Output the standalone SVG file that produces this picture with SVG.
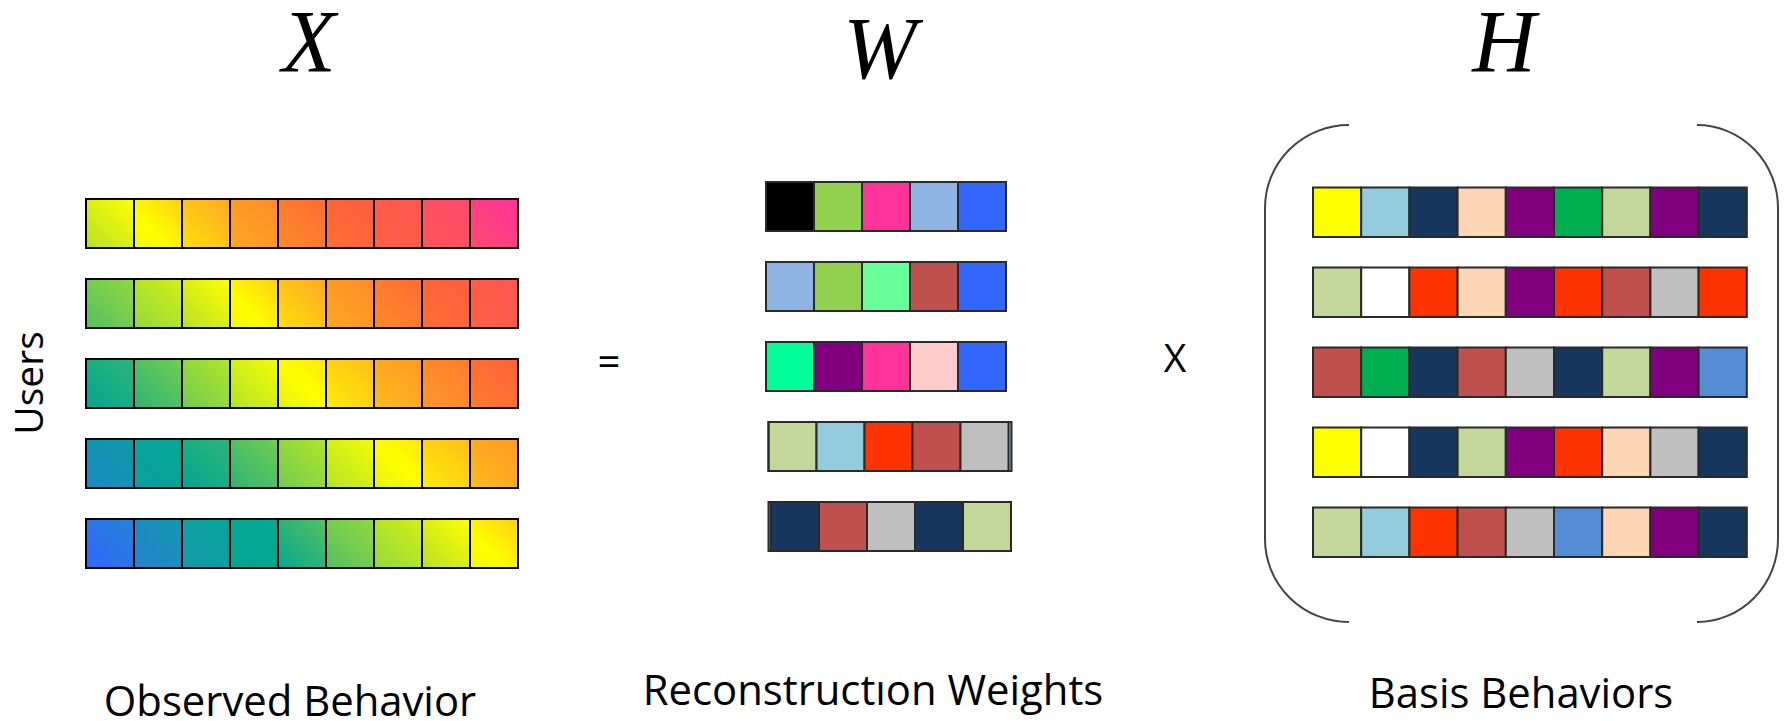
<svg xmlns="http://www.w3.org/2000/svg" width="1785" height="721" viewBox="0 0 1785 721">
<style>
.xc{stroke:#000;stroke-width:2}
.wc{stroke:#2a2a2a;stroke-width:2}
.frame{fill:none;stroke:#2a2a2a;stroke-width:2}
.br{fill:none;stroke:#444;stroke-width:2}
.mat{font-family:"Liberation Serif","Times New Roman",serif;font-style:italic;font-size:88px;fill:#000;text-anchor:middle}
.lbl{font-family:"Open Sans","Liberation Sans",sans-serif;fill:#000;text-anchor:middle}
</style>
<defs>
<linearGradient id="g0" x1="0" y1="1" x2="1" y2="0"><stop offset="0" stop-color="#3366FF"/><stop offset="1" stop-color="#2482D2"/></linearGradient>
<linearGradient id="g1" x1="0" y1="1" x2="1" y2="0"><stop offset="0" stop-color="#2482D2"/><stop offset="1" stop-color="#1598AE"/></linearGradient>
<linearGradient id="g2" x1="0" y1="1" x2="1" y2="0"><stop offset="0" stop-color="#1598AE"/><stop offset="1" stop-color="#03A594"/></linearGradient>
<linearGradient id="g3" x1="0" y1="1" x2="1" y2="0"><stop offset="0" stop-color="#03A594"/><stop offset="1" stop-color="#05A890"/></linearGradient>
<linearGradient id="g4" x1="0" y1="1" x2="1" y2="0"><stop offset="0" stop-color="#05A890"/><stop offset="1" stop-color="#55C060"/></linearGradient>
<linearGradient id="g5" x1="0" y1="1" x2="1" y2="0"><stop offset="0" stop-color="#55C060"/><stop offset="1" stop-color="#92D840"/></linearGradient>
<linearGradient id="g6" x1="0" y1="1" x2="1" y2="0"><stop offset="0" stop-color="#92D840"/><stop offset="1" stop-color="#D4F014"/></linearGradient>
<linearGradient id="g7" x1="0" y1="1" x2="1" y2="0"><stop offset="0" stop-color="#B8E028"/><stop offset="1" stop-color="#FFFF00"/></linearGradient>
<linearGradient id="g8" x1="0" y1="1" x2="1" y2="0"><stop offset="0" stop-color="#F0F808"/><stop offset="0.35" stop-color="#FFFF00"/><stop offset="1" stop-color="#FFD012"/></linearGradient>
<linearGradient id="g9" x1="0" y1="1" x2="1" y2="0"><stop offset="0" stop-color="#FFE00C"/><stop offset="1" stop-color="#FFA822"/></linearGradient>
<linearGradient id="g10" x1="0" y1="1" x2="1" y2="0"><stop offset="0" stop-color="#FFA822"/><stop offset="1" stop-color="#FF8A2A"/></linearGradient>
<linearGradient id="g11" x1="0" y1="1" x2="1" y2="0"><stop offset="0" stop-color="#FF8A2A"/><stop offset="1" stop-color="#FF6C33"/></linearGradient>
<linearGradient id="g12" x1="0" y1="1" x2="1" y2="0"><stop offset="0" stop-color="#FF6E32"/><stop offset="1" stop-color="#FF5E42"/></linearGradient>
<linearGradient id="g13" x1="0" y1="1" x2="1" y2="0"><stop offset="0" stop-color="#FF6040"/><stop offset="1" stop-color="#FF5555"/></linearGradient>
<linearGradient id="g14" x1="0" y1="1" x2="1" y2="0"><stop offset="0" stop-color="#FF5555"/><stop offset="1" stop-color="#FF4A70"/></linearGradient>
<linearGradient id="g15" x1="0" y1="1" x2="1" y2="0"><stop offset="0" stop-color="#FF4A70"/><stop offset="1" stop-color="#FF3399"/></linearGradient>
<linearGradient id="h1" x1="0" y1="1" x2="1" y2="0"><stop offset="0" stop-color="#1E88C8"/><stop offset="1" stop-color="#0C9EA1"/></linearGradient>
<linearGradient id="h2" x1="0" y1="1" x2="1" y2="0"><stop offset="0" stop-color="#0C9EA1"/><stop offset="1" stop-color="#04A692"/></linearGradient>
<linearGradient id="h3" x1="0" y1="1" x2="1" y2="0"><stop offset="0" stop-color="#04A692"/><stop offset="1" stop-color="#2DB478"/></linearGradient>
<linearGradient id="h4" x1="0" y1="1" x2="1" y2="0"><stop offset="0" stop-color="#2DB478"/><stop offset="1" stop-color="#73CC50"/></linearGradient>
<linearGradient id="h5" x1="0" y1="1" x2="1" y2="0"><stop offset="0" stop-color="#73CC50"/><stop offset="1" stop-color="#B3E42A"/></linearGradient>
<linearGradient id="h6" x1="0" y1="1" x2="1" y2="0"><stop offset="0" stop-color="#B3E42A"/><stop offset="1" stop-color="#F4FB05"/></linearGradient>
<linearGradient id="h7" x1="0" y1="1" x2="1" y2="0"><stop offset="0" stop-color="#E0F210"/><stop offset="0.5" stop-color="#FFFF00"/><stop offset="1" stop-color="#FFE709"/></linearGradient>
<linearGradient id="h8" x1="0" y1="1" x2="1" y2="0"><stop offset="0" stop-color="#FFEE06"/><stop offset="1" stop-color="#FFBC1A"/></linearGradient>
<linearGradient id="h9" x1="0" y1="1" x2="1" y2="0"><stop offset="0" stop-color="#FFBC1A"/><stop offset="1" stop-color="#FF9926"/></linearGradient>
<linearGradient id="h10" x1="0" y1="1" x2="1" y2="0"><stop offset="0" stop-color="#FF9926"/><stop offset="1" stop-color="#FF7C2E"/></linearGradient>
<linearGradient id="h11" x1="0" y1="1" x2="1" y2="0"><stop offset="0" stop-color="#FF7C2E"/><stop offset="1" stop-color="#FF6239"/></linearGradient>
</defs>
<rect width="1785" height="721" fill="#fff"/>

<g id="title-X"><text class="mat" x="309" y="71">X</text></g>
<g id="title-W"><text class="mat" x="880" y="78">W</text></g>
<g id="title-H"><text class="mat" x="1504" y="71">H</text></g>

<g id="matrix-X">
<g id="x-row1">
<rect class="xc" x="86" y="199" width="48" height="49" fill="url(#g7)"/>
<rect class="xc" x="134" y="199" width="48" height="49" fill="url(#g8)"/>
<rect class="xc" x="182" y="199" width="48" height="49" fill="url(#g9)"/>
<rect class="xc" x="230" y="199" width="48" height="49" fill="url(#g10)"/>
<rect class="xc" x="278" y="199" width="48" height="49" fill="url(#g11)"/>
<rect class="xc" x="326" y="199" width="48" height="49" fill="url(#g12)"/>
<rect class="xc" x="374" y="199" width="48" height="49" fill="url(#g13)"/>
<rect class="xc" x="422" y="199" width="48" height="49" fill="url(#g14)"/>
<rect class="xc" x="470" y="199" width="48" height="49" fill="url(#g15)"/>
</g>
<g id="x-row2">
<rect class="xc" x="86" y="279" width="48" height="49" fill="url(#g5)"/>
<rect class="xc" x="134" y="279" width="48" height="49" fill="url(#g6)"/>
<rect class="xc" x="182" y="279" width="48" height="49" fill="url(#g7)"/>
<rect class="xc" x="230" y="279" width="48" height="49" fill="url(#g8)"/>
<rect class="xc" x="278" y="279" width="48" height="49" fill="url(#g9)"/>
<rect class="xc" x="326" y="279" width="48" height="49" fill="url(#g10)"/>
<rect class="xc" x="374" y="279" width="48" height="49" fill="url(#g11)"/>
<rect class="xc" x="422" y="279" width="48" height="49" fill="url(#g12)"/>
<rect class="xc" x="470" y="279" width="48" height="49" fill="url(#g13)"/>
</g>
<g id="x-row3">
<rect class="xc" x="86" y="359" width="48" height="49" fill="url(#h3)"/>
<rect class="xc" x="134" y="359" width="48" height="49" fill="url(#h4)"/>
<rect class="xc" x="182" y="359" width="48" height="49" fill="url(#h5)"/>
<rect class="xc" x="230" y="359" width="48" height="49" fill="url(#h6)"/>
<rect class="xc" x="278" y="359" width="48" height="49" fill="url(#h7)"/>
<rect class="xc" x="326" y="359" width="48" height="49" fill="url(#h8)"/>
<rect class="xc" x="374" y="359" width="48" height="49" fill="url(#h9)"/>
<rect class="xc" x="422" y="359" width="48" height="49" fill="url(#h10)"/>
<rect class="xc" x="470" y="359" width="48" height="49" fill="url(#h11)"/>
</g>
<g id="x-row4">
<rect class="xc" x="86" y="439" width="48" height="49" fill="url(#h1)"/>
<rect class="xc" x="134" y="439" width="48" height="49" fill="url(#h2)"/>
<rect class="xc" x="182" y="439" width="48" height="49" fill="url(#h3)"/>
<rect class="xc" x="230" y="439" width="48" height="49" fill="url(#h4)"/>
<rect class="xc" x="278" y="439" width="48" height="49" fill="url(#h5)"/>
<rect class="xc" x="326" y="439" width="48" height="49" fill="url(#h6)"/>
<rect class="xc" x="374" y="439" width="48" height="49" fill="url(#h7)"/>
<rect class="xc" x="422" y="439" width="48" height="49" fill="url(#h8)"/>
<rect class="xc" x="470" y="439" width="48" height="49" fill="url(#h9)"/>
</g>
<g id="x-row5">
<rect class="xc" x="86" y="519" width="48" height="49" fill="url(#g0)"/>
<rect class="xc" x="134" y="519" width="48" height="49" fill="url(#g1)"/>
<rect class="xc" x="182" y="519" width="48" height="49" fill="url(#g2)"/>
<rect class="xc" x="230" y="519" width="48" height="49" fill="url(#g3)"/>
<rect class="xc" x="278" y="519" width="48" height="49" fill="url(#g4)"/>
<rect class="xc" x="326" y="519" width="48" height="49" fill="url(#g5)"/>
<rect class="xc" x="374" y="519" width="48" height="49" fill="url(#g6)"/>
<rect class="xc" x="422" y="519" width="48" height="49" fill="url(#g7)"/>
<rect class="xc" x="470" y="519" width="48" height="49" fill="url(#g8)"/>
</g>
</g>

<g id="label-users"><text class="lbl" x="43" y="383" font-size="39" transform="rotate(-90 43 383)">Users</text></g>

<g id="op-equals"><text class="lbl" x="609" y="376" font-size="40">=</text></g>

<g id="matrix-W">
<g id="w-row1">
<rect class="wc" x="766" y="182" width="48" height="49" fill="#000000"/>
<rect class="wc" x="814" y="182" width="48" height="49" fill="#92D050"/>
<rect class="wc" x="862" y="182" width="48" height="49" fill="#FF3399"/>
<rect class="wc" x="910" y="182" width="48" height="49" fill="#8EB4E3"/>
<rect class="wc" x="958" y="182" width="48" height="49" fill="#3366FF"/>
</g>
<g id="w-row2">
<rect class="wc" x="766" y="262" width="48" height="49" fill="#8EB4E3"/>
<rect class="wc" x="814" y="262" width="48" height="49" fill="#92D050"/>
<rect class="wc" x="862" y="262" width="48" height="49" fill="#66FF99"/>
<rect class="wc" x="910" y="262" width="48" height="49" fill="#C0504D"/>
<rect class="wc" x="958" y="262" width="48" height="49" fill="#3366FF"/>
</g>
<g id="w-row3">
<rect class="wc" x="766" y="342" width="48" height="49" fill="#00FF99"/>
<rect class="wc" x="814" y="342" width="48" height="49" fill="#800080"/>
<rect class="wc" x="862" y="342" width="48" height="49" fill="#FF3399"/>
<rect class="wc" x="910" y="342" width="48" height="49" fill="#FFCCCC"/>
<rect class="wc" x="958" y="342" width="48" height="49" fill="#3366FF"/>
</g>
<g id="w-row4">
<rect x="1008.5" y="422" width="3" height="49" fill="#8EB4E3"/>
<rect class="wc" x="768.5" y="422" width="48" height="49" fill="#C4D79B"/>
<rect class="wc" x="816.5" y="422" width="48" height="49" fill="#93CDDD"/>
<rect class="wc" x="864.5" y="422" width="48" height="49" fill="#FF3300"/>
<rect class="wc" x="912.5" y="422" width="48" height="49" fill="#C0504D"/>
<rect class="wc" x="960.5" y="422" width="48" height="49" fill="#BFBFBF"/>
<rect class="frame" x="768.5" y="422" width="243" height="49"/>
</g>
<g id="w-row5">
<rect x="768.5" y="502" width="3" height="49" fill="#00CC66"/>
<rect class="wc" x="771" y="502" width="48" height="49" fill="#17375E"/>
<rect class="wc" x="819" y="502" width="48" height="49" fill="#C0504D"/>
<rect class="wc" x="867" y="502" width="48" height="49" fill="#BFBFBF"/>
<rect class="wc" x="915" y="502" width="48" height="49" fill="#17375E"/>
<rect class="wc" x="963" y="502" width="48" height="49" fill="#C4D79B"/>
<rect class="frame" x="768.5" y="502" width="242.5" height="49"/>
</g>
</g>

<g id="op-times"><text class="lbl" x="1175" y="372" font-size="39">X</text></g>

<g id="matrix-H">
<path class="br" d="M1349,125 A84,83 0 0 0 1265,208 L1265,539 A84,83 0 0 0 1349,622"/>
<path class="br" d="M1697,125 A81,83 0 0 1 1778,208 L1778,539 A81,83 0 0 1 1697,622"/>
<g id="h-row1">
<rect class="wc" x="1313" y="187.5" width="48.2" height="49.5" fill="#FFFF00"/>
<rect class="wc" x="1361.2" y="187.5" width="48.2" height="49.5" fill="#93CDDD"/>
<rect class="wc" x="1409.4" y="187.5" width="48.2" height="49.5" fill="#17375E"/>
<rect class="wc" x="1457.6" y="187.5" width="48.2" height="49.5" fill="#FCD5B5"/>
<rect class="wc" x="1505.8" y="187.5" width="48.2" height="49.5" fill="#800080"/>
<rect class="wc" x="1554" y="187.5" width="48.2" height="49.5" fill="#00B050"/>
<rect class="wc" x="1602.2" y="187.5" width="48.2" height="49.5" fill="#C4D79B"/>
<rect class="wc" x="1650.4" y="187.5" width="48.2" height="49.5" fill="#800080"/>
<rect class="wc" x="1698.6" y="187.5" width="48.2" height="49.5" fill="#17375E"/>
</g>
<g id="h-row2">
<rect class="wc" x="1313" y="267.5" width="48.2" height="49.5" fill="#C4D79B"/>
<rect class="wc" x="1361.2" y="267.5" width="48.2" height="49.5" fill="#FFFFFF"/>
<rect class="wc" x="1409.4" y="267.5" width="48.2" height="49.5" fill="#FF3300"/>
<rect class="wc" x="1457.6" y="267.5" width="48.2" height="49.5" fill="#FCD5B5"/>
<rect class="wc" x="1505.8" y="267.5" width="48.2" height="49.5" fill="#800080"/>
<rect class="wc" x="1554" y="267.5" width="48.2" height="49.5" fill="#FF3300"/>
<rect class="wc" x="1602.2" y="267.5" width="48.2" height="49.5" fill="#C0504D"/>
<rect class="wc" x="1650.4" y="267.5" width="48.2" height="49.5" fill="#BFBFBF"/>
<rect class="wc" x="1698.6" y="267.5" width="48.2" height="49.5" fill="#FF3300"/>
</g>
<g id="h-row3">
<rect class="wc" x="1313" y="347.5" width="48.2" height="49.5" fill="#C0504D"/>
<rect class="wc" x="1361.2" y="347.5" width="48.2" height="49.5" fill="#00B050"/>
<rect class="wc" x="1409.4" y="347.5" width="48.2" height="49.5" fill="#17375E"/>
<rect class="wc" x="1457.6" y="347.5" width="48.2" height="49.5" fill="#C0504D"/>
<rect class="wc" x="1505.8" y="347.5" width="48.2" height="49.5" fill="#BFBFBF"/>
<rect class="wc" x="1554" y="347.5" width="48.2" height="49.5" fill="#17375E"/>
<rect class="wc" x="1602.2" y="347.5" width="48.2" height="49.5" fill="#C4D79B"/>
<rect class="wc" x="1650.4" y="347.5" width="48.2" height="49.5" fill="#800080"/>
<rect class="wc" x="1698.6" y="347.5" width="48.2" height="49.5" fill="#558ED5"/>
</g>
<g id="h-row4">
<rect class="wc" x="1313" y="427.5" width="48.2" height="49.5" fill="#FFFF00"/>
<rect class="wc" x="1361.2" y="427.5" width="48.2" height="49.5" fill="#FFFFFF"/>
<rect class="wc" x="1409.4" y="427.5" width="48.2" height="49.5" fill="#17375E"/>
<rect class="wc" x="1457.6" y="427.5" width="48.2" height="49.5" fill="#C4D79B"/>
<rect class="wc" x="1505.8" y="427.5" width="48.2" height="49.5" fill="#800080"/>
<rect class="wc" x="1554" y="427.5" width="48.2" height="49.5" fill="#FF3300"/>
<rect class="wc" x="1602.2" y="427.5" width="48.2" height="49.5" fill="#FCD5B5"/>
<rect class="wc" x="1650.4" y="427.5" width="48.2" height="49.5" fill="#BFBFBF"/>
<rect class="wc" x="1698.6" y="427.5" width="48.2" height="49.5" fill="#17375E"/>
</g>
<g id="h-row5">
<rect class="wc" x="1313" y="507.5" width="48.2" height="49.5" fill="#C4D79B"/>
<rect class="wc" x="1361.2" y="507.5" width="48.2" height="49.5" fill="#93CDDD"/>
<rect class="wc" x="1409.4" y="507.5" width="48.2" height="49.5" fill="#FF3300"/>
<rect class="wc" x="1457.6" y="507.5" width="48.2" height="49.5" fill="#C0504D"/>
<rect class="wc" x="1505.8" y="507.5" width="48.2" height="49.5" fill="#BFBFBF"/>
<rect class="wc" x="1554" y="507.5" width="48.2" height="49.5" fill="#558ED5"/>
<rect class="wc" x="1602.2" y="507.5" width="48.2" height="49.5" fill="#FCD5B5"/>
<rect class="wc" x="1650.4" y="507.5" width="48.2" height="49.5" fill="#800080"/>
<rect class="wc" x="1698.6" y="507.5" width="48.2" height="49.5" fill="#17375E"/>
</g>
</g>

<g id="label-observed"><text class="lbl" x="290" y="716" font-size="41.8">Observed Behavior</text></g>
<g id="label-weights"><text class="lbl" x="873" y="705" font-size="41.8">Reconstructıon Weights</text></g>
<g id="label-basis"><text class="lbl" x="1521" y="708" font-size="41.8">Basis Behaviors</text></g>
</svg>
